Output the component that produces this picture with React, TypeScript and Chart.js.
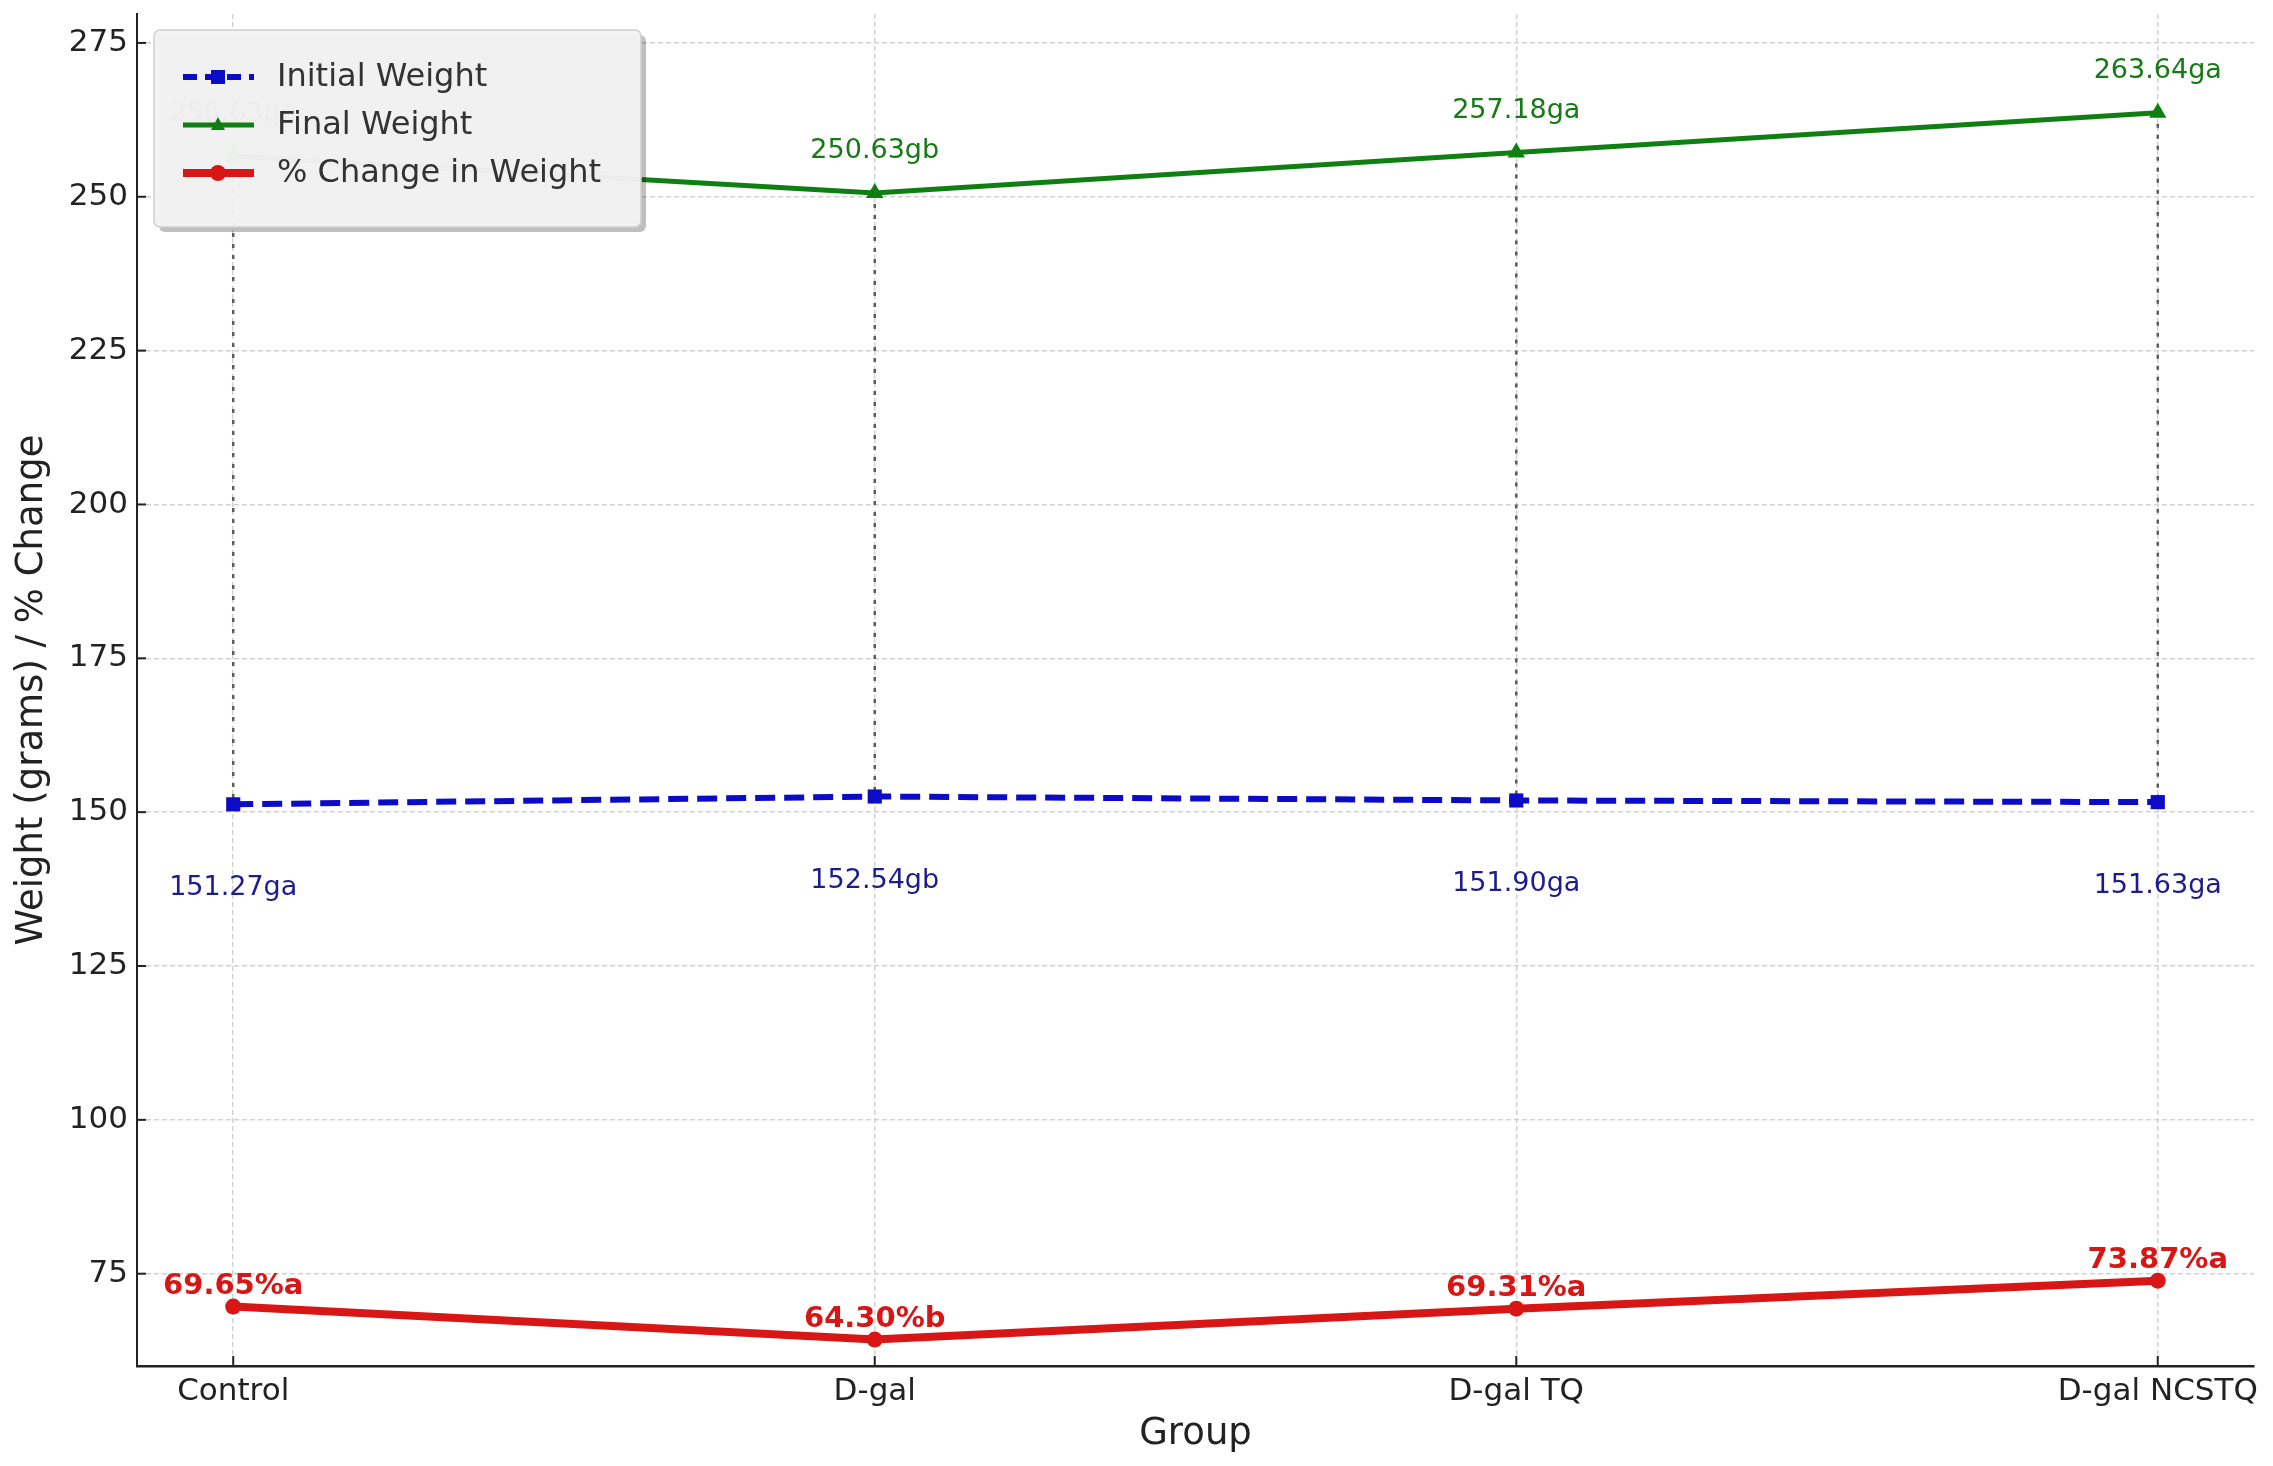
import React, { useEffect, useRef } from "react";
import { Chart, registerables, ChartConfiguration, Plugin } from "chart.js";

Chart.register(...registerables);

const groups = ["Control", "D-gal", "D-gal TQ", "D-gal NCSTQ"];
const initialWeight = [151.27, 152.54, 151.9, 151.63];
const finalWeight = [256.63, 250.63, 257.18, 263.64];
const pctChange = [69.65, 64.3, 69.31, 73.87];
const initialLetters = ["a", "b", "a", "a"];
const finalLetters = ["a", "b", "a", "a"];
const pctLetters = ["a", "b", "a", "a"];
const yTicks = [75, 100, 125, 150, 175, 200, 225, 250, 275];

const BLUE = "#0b0bc8";
const GREEN = "#0f7f12";
const RED = "#d91616";
const FONT = '"DejaVu Sans", sans-serif';

// dotted guides from initial to final weight + short inward tick marks
const guidePlugin: Plugin = {
  id: "guides",
  beforeDatasetsDraw(chart) {
    const { ctx, scales } = chart;
    const x = scales.x;
    const y = scales.y;
    ctx.save();
    ctx.strokeStyle = "#5c5c5c";
    ctx.lineWidth = 2.5;
    ctx.setLineDash([4, 7]);
    groups.forEach((_, i) => {
      const px = x.getPixelForValue(i);
      ctx.beginPath();
      ctx.moveTo(px, y.getPixelForValue(finalWeight[i]));
      ctx.lineTo(px, y.getPixelForValue(initialWeight[i]));
      ctx.stroke();
    });
    ctx.restore();
  },
  afterDraw(chart) {
    const { ctx, scales, chartArea } = chart;
    const x = scales.x;
    const y = scales.y;
    ctx.save();
    ctx.strokeStyle = "#222";
    ctx.lineWidth = 2;
    yTicks.forEach((t) => {
      const py = y.getPixelForValue(t);
      ctx.beginPath();
      ctx.moveTo(chartArea.left, py);
      ctx.lineTo(chartArea.left + 9, py);
      ctx.stroke();
    });
    groups.forEach((_, i) => {
      const px = x.getPixelForValue(i);
      ctx.beginPath();
      ctx.moveTo(px, chartArea.bottom);
      ctx.lineTo(px, chartArea.bottom - 10);
      ctx.stroke();
    });
    ctx.restore();
  },
};

const labelPlugin: Plugin = {
  id: "valueLabels",
  afterDatasetsDraw(chart) {
    const { ctx, scales } = chart;
    const x = scales.x;
    const y = scales.y;
    ctx.save();
    ctx.textAlign = "center";
    ctx.textBaseline = "middle";
    groups.forEach((_, i) => {
      const px = x.getPixelForValue(i);
      ctx.font = `27px ${FONT}`;
      ctx.fillStyle = "#1c1c8e";
      ctx.fillText(`${initialWeight[i].toFixed(2)}g${initialLetters[i]}`, px, y.getPixelForValue(initialWeight[i]) + 84);
      ctx.fillStyle = "#167a16";
      ctx.fillText(`${finalWeight[i].toFixed(2)}g${finalLetters[i]}`, px, y.getPixelForValue(finalWeight[i]) - 42);
      ctx.font = `bold 29px ${FONT}`;
      ctx.fillStyle = RED;
      ctx.fillText(`${pctChange[i].toFixed(2)}%${pctLetters[i]}`, px, y.getPixelForValue(pctChange[i]) - 20);
    });
    ctx.restore();
  },
};

const roundRect = (ctx: CanvasRenderingContext2D, x: number, y: number, w: number, h: number, r: number) => {
  ctx.beginPath();
  ctx.moveTo(x + r, y);
  ctx.arcTo(x + w, y, x + w, y + h, r);
  ctx.arcTo(x + w, y + h, x, y + h, r);
  ctx.arcTo(x, y + h, x, y, r);
  ctx.arcTo(x, y, x + w, y, r);
  ctx.closePath();
};

const legendPlugin: Plugin = {
  id: "boxLegend",
  afterDraw(chart) {
    const ctx = chart.ctx;
    const bx = 154, by = 30, bw = 487, bh = 197;
    ctx.save();
    roundRect(ctx, bx + 5, by + 5, bw, bh, 6);
    ctx.fillStyle = "rgba(0,0,0,0.25)";
    ctx.fill();
    roundRect(ctx, bx, by, bw, bh, 6);
    ctx.fillStyle = "rgba(243,243,243,0.97)";
    ctx.fill();
    ctx.strokeStyle = "#cfcfcf";
    ctx.lineWidth = 1.5;
    ctx.stroke();

    const items = [
      { text: "Initial Weight", color: BLUE, width: 6, dash: [14, 8], marker: "rect" },
      { text: "Final Weight", color: GREEN, width: 5, dash: [], marker: "triangle" },
      { text: "% Change in Weight", color: RED, width: 8, dash: [], marker: "circle" },
    ];
    items.forEach((it, k) => {
      const cy = 77 + k * 48;
      ctx.strokeStyle = it.color;
      ctx.fillStyle = it.color;
      ctx.lineWidth = it.width;
      ctx.setLineDash(it.dash);
      ctx.beginPath();
      ctx.moveTo(183, cy);
      ctx.lineTo(254, cy);
      ctx.stroke();
      ctx.setLineDash([]);
      if (it.marker === "rect") {
        ctx.fillRect(211, cy - 7, 14, 14);
      } else if (it.marker === "triangle") {
        ctx.beginPath();
        ctx.moveTo(218, cy - 8);
        ctx.lineTo(225, cy + 5);
        ctx.lineTo(211, cy + 5);
        ctx.closePath();
        ctx.fill();
      } else {
        ctx.beginPath();
        ctx.arc(218, cy, 8, 0, Math.PI * 2);
        ctx.fill();
      }
      ctx.font = `32px ${FONT}`;
      ctx.fillStyle = "#333";
      ctx.textAlign = "left";
      ctx.textBaseline = "middle";
      ctx.fillText(it.text, 277, cy + 1);
    });
    ctx.restore();
  },
};

const toPoints = (vals: number[]) => vals.map((v, i) => ({ x: i, y: v }));

const App: React.FC = () => {
  const chartRef = useRef<HTMLCanvasElement>(null);
  const chartInstance = useRef<Chart | null>(null);

  useEffect(() => {
    if (!chartRef.current) return;
    if (chartInstance.current) chartInstance.current.destroy();
    const ctx = chartRef.current.getContext("2d");
    if (!ctx) return;

    Chart.defaults.font.family = FONT;

    const config: ChartConfiguration = {
      type: "line",
      data: {
        datasets: [
          {
            label: "Initial Weight",
            data: toPoints(initialWeight),
            borderColor: BLUE,
            backgroundColor: BLUE,
            borderWidth: 6,
            borderDash: [20, 9],
            pointStyle: "rect",
            pointRadius: 10,
            pointBorderWidth: 0,
            tension: 0,
          },
          {
            label: "Final Weight",
            data: toPoints(finalWeight),
            borderColor: GREEN,
            backgroundColor: GREEN,
            borderWidth: 5,
            pointStyle: "triangle",
            pointRadius: 10,
            pointBorderWidth: 0,
            tension: 0,
          },
          {
            label: "% Change in Weight",
            data: toPoints(pctChange),
            borderColor: RED,
            backgroundColor: RED,
            borderWidth: 8,
            pointStyle: "circle",
            pointRadius: 8,
            pointBorderWidth: 0,
            tension: 0,
          },
        ],
      },
      options: {
        responsive: false,
        animation: false,
        layout: { padding: { top: 14, right: 19, left: 0, bottom: 0 } },
        plugins: {
          legend: { display: false },
          tooltip: { enabled: false },
        },
        scales: {
          x: {
            type: "linear",
            min: -0.15,
            max: 3.15,
            afterBuildTicks: (axis: any) => {
              axis.ticks = groups.map((_, i) => ({ value: i }));
            },
            afterFit: (scale: any) => {
              scale.height = 100;
              scale.paddingLeft = 0;
              scale.paddingRight = 0;
            },
            ticks: {
              callback: (v: any) => groups[Number(v)],
              padding: 7,
              font: { size: 31 },
              color: "#222",
              maxRotation: 0,
              autoSkip: false,
            },
            grid: { color: "#d2d2d2", lineWidth: 1.5, drawTicks: false },
            border: { color: "#222", width: 2.5, dash: [5, 3] },
            title: {
              display: true,
              text: "Group",
              font: { size: 37 },
              color: "#222",
              padding: { top: 0, bottom: 9 },
            },
          },
          y: {
            type: "linear",
            min: 60,
            max: 279.7,
            afterBuildTicks: (axis: any) => {
              axis.ticks = yTicks.map((t) => ({ value: t }));
            },
            afterFit: (scale: any) => {
              scale.width = 137;
              scale.paddingTop = 0;
              scale.paddingBottom = 0;
            },
            ticks: {
              padding: 9,
              font: { size: 31 },
              color: "#222",
            },
            grid: { color: "#d2d2d2", lineWidth: 1.5, drawTicks: false },
            border: { color: "#222", width: 2, dash: [5, 3] },
            title: {
              display: true,
              text: "Weight (grams) / % Change",
              font: { size: 37 },
              color: "#222",
              padding: { top: 10, bottom: 0 },
            },
          },
        },
      },
      plugins: [guidePlugin, labelPlugin, legendPlugin],
    };

    chartInstance.current = new Chart(ctx, config);

    return () => {
      if (chartInstance.current) {
        chartInstance.current.destroy();
        chartInstance.current = null;
      }
    };
  }, []);

  return (
    <div style={{ position: "fixed", left: 0, top: 0, width: 2273, height: 1466, background: "#fff" }}>
      <canvas ref={chartRef} width={2273} height={1466} style={{ display: "block" }} />
    </div>
  );
};

export default App;
